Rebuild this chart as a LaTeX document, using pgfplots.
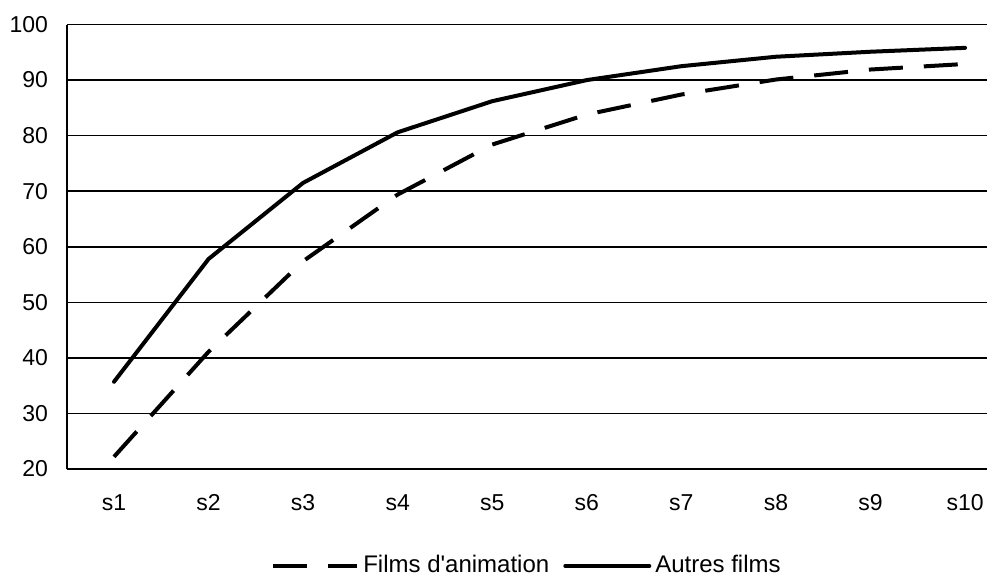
\documentclass[border=0pt]{standalone}
\usepackage{pgfplots}
\pgfplotsset{compat=1.18}
\usepackage{fontspec}
\setmainfont{Liberation Sans}
\begin{document}
\fontsize{11.5}{13.5}\selectfont
\begin{tikzpicture}
\useasboundingbox (0,0) rectangle (493.5pt,287.5pt);
\begin{axis}[
  at={(33.5pt,53pt)}, anchor=south west,
  scale only axis,
  width=460pt, height=222.25pt,
  xmin=-0.497, xmax=9.232,
  ymin=20, ymax=100,
  ytick={20,30,...,100},
  xtick={0,...,9},
  xticklabels={s1,s2,s3,s4,s5,s6,s7,s8,s9,s10},
  /pgf/number format/assume math mode=true,
  tick label style={font=\fontsize{11.5}{13.5}\selectfont},
  yticklabel style={xshift=-5.5pt},
  xticklabel style={yshift=-8pt, text height=8.5pt, text depth=2pt},
  major tick length=0pt,
  axis x line*=bottom, axis y line*=left,
  axis line style={line width=1pt, -},
  ymajorgrids, grid style={black, line width=0.8pt},
  legend style={at={(230.5pt,-48.5pt)}, anchor=center, draw=none, fill=none,
    font=\fontsize{12}{14}\selectfont, legend columns=2,
    /tikz/every even column/.append style={column sep=5pt},
    inner sep=0pt},
  legend cell align=left,
  legend image code/.code={\draw[#1] (0pt,0pt) -- (42pt,0pt);},
  clip=false,
]
\addplot[black, line width=2pt, dash pattern=on 17pt off 10.5pt, line cap=butt] coordinates {
(0,22.2) (1,41.1) (2,57.4) (3,69.4) (4,78.4) (5,83.8) (6,87.4) (7,90.1) (8,91.9) (9,92.9)};
\addlegendentry{Films d\textquotesingle animation}
\addplot[black, line width=2pt, line cap=round, line join=round] coordinates {
(0,35.7) (1,57.8) (2,71.5) (3,80.6) (4,86.2) (5,90.0) (6,92.5) (7,94.2) (8,95.1) (9,95.8)};
\addlegendentry{Autres films}
\end{axis}
\end{tikzpicture}
\end{document}
